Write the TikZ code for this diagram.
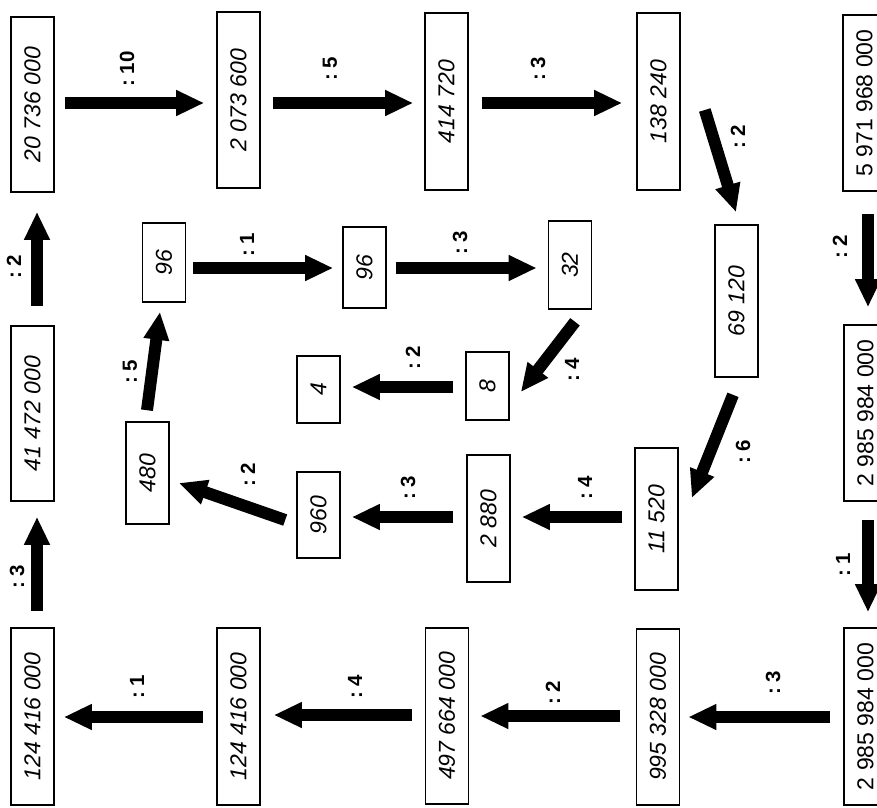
\documentclass[tikz,border=0pt]{standalone}
\usepackage{fontspec}
\setmainfont{Liberation Sans}
\usetikzlibrary{arrows.meta}
\newcommand{\vtxt}[1]{\rotatebox{90}{#1}}
\begin{document}
\begin{tikzpicture}[x=1pt,y=-1pt,
  box/.style={draw, line width=1.6pt, minimum width=43pt, inner sep=0pt,
    font=\fontsize{23}{23}\selectfont\itshape},
  boxu/.style={box, font=\fontsize{23}{23}\selectfont},
  fat/.style={line width=12pt, -{Triangle[length=28pt,width=24pt]}},
  lab/.style={font=\fontsize{20.5}{20.5}\selectfont\bfseries, rotate=90, inner sep=0pt}]
\useasboundingbox (0,0) rectangle (877,807);
% boxes
\node[box, minimum height=175pt] (A) at (32.5,104.5) {\vtxt{20 736 000}};
\node[box, minimum height=176pt] (B) at (238.5,100) {\vtxt{2 073 600}};
\node[box, minimum height=177pt] (C) at (446.5,101.5) {\vtxt{414 720}};
\node[box, minimum height=177pt] (D) at (658.5,101.5) {\vtxt{138 240}};
\node[boxu, minimum height=176pt] (E) at (864.5,103) {\vtxt{5 971 968 000}};
\node[box, minimum height=175pt] (F) at (32.5,413.5) {\vtxt{41 472 000}};
\node[box, minimum height=79pt] (G) at (164,262.5) {\vtxt{96}};
\node[box, minimum height=81pt] (H) at (364.5,267.5) {\vtxt{96}};
\node[box, minimum height=88pt] (I) at (570,265) {\vtxt{32}};
\node[box, minimum height=152pt] (J) at (736.5,301) {\vtxt{69 120}};
\node[boxu, minimum height=176pt] (K) at (865.5,413) {\vtxt{2 985 984 000}};
\node[box, minimum height=68pt] (L) at (487.5,386) {\vtxt{8}};
\node[box, minimum height=67pt] (M) at (318.5,389.5) {\vtxt{4}};
\node[box, minimum height=102pt] (N) at (147.5,473) {\vtxt{480}};
\node[box, minimum height=86pt] (O) at (318.5,515) {\vtxt{960}};
\node[box, minimum height=127pt] (P) at (488.5,518.5) {\vtxt{2 880}};
\node[box, minimum height=142pt] (Q) at (656.5,519) {\vtxt{11 520}};
\node[box, minimum height=177pt] (R) at (32.5,716.5) {\vtxt{124 416 000}};
\node[box, minimum height=177pt] (S) at (238.5,716.5) {\vtxt{124 416 000}};
\node[box, minimum height=176pt] (T) at (447,716) {\vtxt{497 664 000}};
\node[box, minimum height=176pt] (U) at (658,717) {\vtxt{995 328 000}};
\node[boxu, minimum height=177pt] (V) at (865.5,716.5) {\vtxt{2 985 984 000}};
% arrows
\draw[fat] ([shift={(10,-1.5)}]A.east) -- ([shift={(-12,3)}]B.west);
\draw[fat] ([shift={(12,3)}]B.east) -- ([shift={(-11,1.5)}]C.west);
\draw[fat] ([shift={(13,1.5)}]C.east) -- ([shift={(-14,1.5)}]D.west);
\draw[fat] ([shift={(24,8.5)}]D.east) -- ([shift={(-0.5,-12)}]J.north);
\draw[fat] ([shift={(3.5,22)}]E.south) -- ([shift={(2.5,-17)}]K.north);
\draw[fat] ([shift={(2.5,18)}]K.south) -- ([shift={(2.5,-15)}]V.north);
\draw[fat] ([shift={(-13,0.5)}]V.west) -- ([shift={(8,0)}]U.east);
\draw[fat] ([shift={(-16,-1)}]U.west) -- ([shift={(11,0)}]T.east);
\draw[fat] ([shift={(-13,-1)}]T.west) -- ([shift={(13,-1.5)}]S.east);
\draw[fat] ([shift={(-13,0.5)}]S.west) -- ([shift={(9,0.5)}]R.east);
\draw[fat] ([shift={(4.5,-16)}]R.north) -- ([shift={(4.5,15)}]F.south);
\draw[fat] ([shift={(4.5,-19)}]F.north) -- ([shift={(4.5,19)}]A.south);
\draw[fat] ([shift={(-3.5,17)}]J.south) -- ([shift={(13,-21)}]Q.east);
\draw[fat] ([shift={(-12,-2)}]Q.west) -- ([shift={(11,-1.5)}]P.east);
\draw[fat] ([shift={(-13,-1.5)}]P.west) -- ([shift={(11,2)}]O.east);
\draw[fat] ([shift={(-11,5)}]O.west) -- ([shift={(9,10)}]N.east);
\draw[fat] ([shift={(-0.5,-11)}]N.north) -- ([shift={(-4,9)}]G.south);
\draw[fat] ([shift={(7,5.5)}]G.east) -- ([shift={(-9,0.5)}]H.west);
\draw[fat] ([shift={(9,0.5)}]H.east) -- ([shift={(-11,3)}]I.west);
\draw[fat] ([shift={(5,12)}]I.south) -- ([shift={(11,6)}]L.east);
\draw[fat] ([shift={(-12,1)}]L.west) -- ([shift={(11,-2.5)}]M.east);
% labels
\node[lab] (l1) at (127,69) {:\ 10};
\node[lab] (l2) at (330,69) {:\ 5};
\node[lab] (l3) at (538,69) {:\ 3};
\node[lab] (l4) at (738,137) {:\ 2};
\node[lab] (l5) at (840,247) {:\ 2};
\node[lab] (l6) at (843,565) {:\ 1};
\node[lab] (l7) at (773,683) {:\ 3};
\node[lab] (l8) at (553,693) {:\ 2};
\node[lab] (l9) at (355,687) {:\ 4};
\node[lab] (l10) at (137,687) {:\ 1};
\node[lab] (l11) at (17,577) {:\ 3};
\node[lab] (l12) at (14,267) {:\ 2};
\node[lab] (l13) at (743,452) {:\ 6};
\node[lab] (l14) at (585,488) {:\ 4};
\node[lab] (l15) at (408,488) {:\ 3};
\node[lab] (l16) at (248,475) {:\ 2};
\node[lab] (l17) at (130,372) {:\ 5};
\node[lab] (l18) at (247,245) {:\ 1};
\node[lab] (l19) at (460,243) {:\ 3};
\node[lab] (l20) at (572,370) {:\ 4};
\node[lab] (l21) at (413,358) {:\ 2};
\end{tikzpicture}
\end{document}
